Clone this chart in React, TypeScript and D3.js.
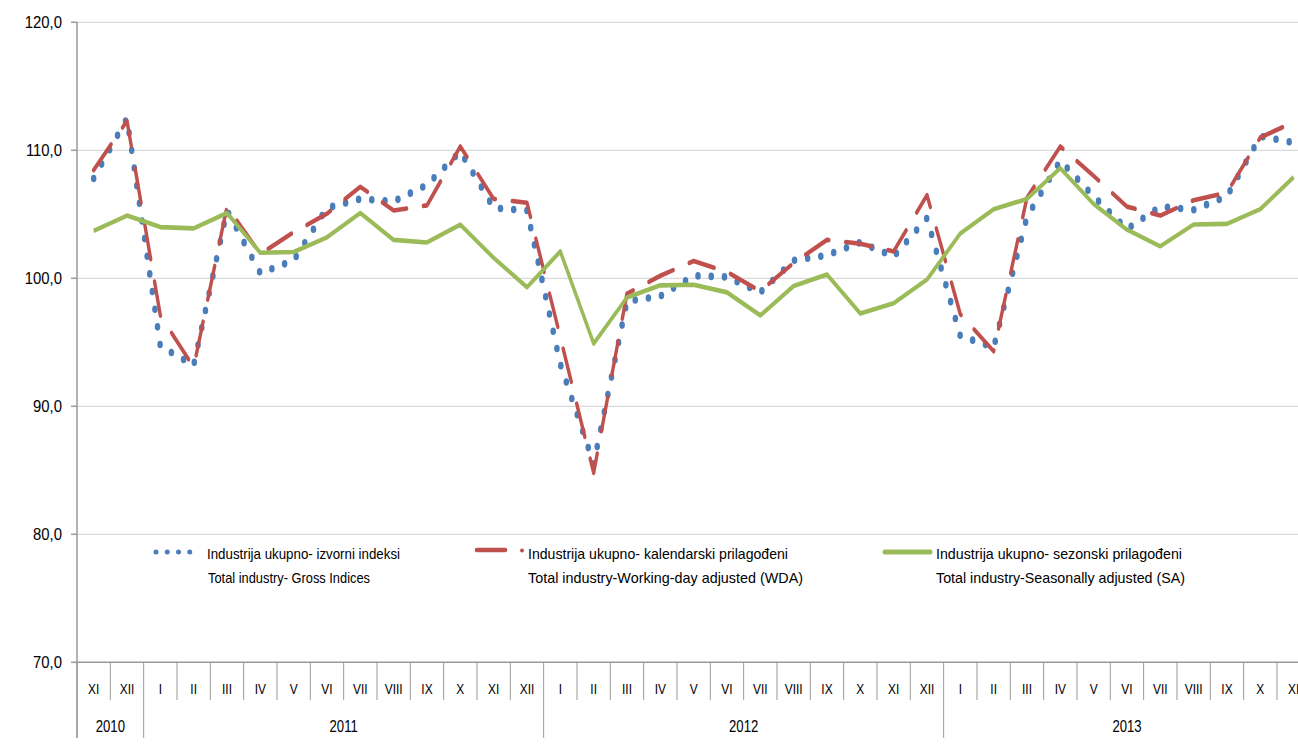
import React from 'react';
import * as d3 from 'd3';

const months = ['XI', 'XII', 'I', 'II', 'III', 'IV', 'V', 'VI', 'VII', 'VIII', 'IX', 'X', 'XI', 'XII',
  'I', 'II', 'III', 'IV', 'V', 'VI', 'VII', 'VIII', 'IX', 'X', 'XI', 'XII',
  'I', 'II', 'III', 'IV', 'V', 'VI', 'VII', 'VIII', 'IX', 'X', 'XI'];
const yearLabels = ['2010', '2011', '2012', '2013'];
const yearMonthCounts = [2, 12, 12, 11];

const gross = [107.8, 112.5, 94.7, 93.2, 105.3, 100.4, 101.4, 105.5, 106.2, 106.0, 107.3, 109.9, 105.5, 105.3,
  93.3, 85.5, 98.2, 98.6, 100.2, 100.1, 98.9, 101.4, 101.8, 102.8, 101.7, 104.7,
  95.5, 94.6, 104.8, 109.2, 106.4, 103.85, 105.6, 105.35, 106.4, 111.1, 110.6];
const wda = [108.45, 112.3, 97.1, 93.05, 105.6, 101.9, 103.6, 105.05, 107.15, 105.3, 105.7, 110.3, 106.2, 105.9,
  95.4, 84.8, 98.8, 100.2, 101.35, 100.5, 99.0, 101.2, 103.0, 102.7, 102.1, 106.5,
  97.2, 94.3, 106.3, 110.3, 108.0, 105.6, 104.9, 106.1, 106.7, 111.0, 112.2];
const sa = [103.7, 104.9, 104.0, 103.9, 105.1, 102.0, 102.05, 103.2, 105.1, 103.0, 102.8, 104.2, 101.6, 99.3,
  102.1, 94.9, 98.5, 99.45, 99.5, 98.9, 97.1, 99.4, 100.3, 97.25, 98.05, 99.9,
  103.5, 105.4, 106.2, 108.6, 105.8, 103.8, 102.5, 104.2, 104.25, 105.4, 107.9];
const yTicks = [70, 80, 90, 100, 110, 120];

const legendLine1 = ['Industrija ukupno- izvorni indeksi', 'Industrija ukupno- kalendarski prilagođeni', 'Industrija ukupno- sezonski prilagođeni'];
const legendLine2 = ['Total industry- Gross Indices', 'Total industry-Working-day adjusted (WDA)', 'Total industry-Seasonally adjusted (SA)'];

const W = 1298, H = 744;
const X0 = 77, X1 = 1310.3, Y0 = 662.3, Y1 = 22.3;
const SQ = 0.735;
const BLUE = '#4a7ebb', RED = '#c0504d', GREEN = '#9bbb59';
const FONT = '"Liberation Sans", Arial, sans-serif';

function SText({ x, y, sx = 1, anchor = 'middle', size = 15, children }: any) {
  return (
    <text transform={`translate(${x},${y}) scale(${sx},1)`} textAnchor={anchor} fontSize={size}
      fontFamily={FONT} fill="#000">{children}</text>
  );
}

export default function App() {
  const idx = d3.range(months.length);
  const x = d3.scaleBand<number>().domain(idx).range([X0, X1]).padding(0);
  const y = d3.scaleLinear().domain([70, 120]).range([Y0, Y1]);
  const bw = x.bandwidth();
  const cxS = (i: number) => (x(i)! + bw / 2) / SQ;
  const lineGen = d3.line<number>().x((_, i) => cxS(i)).y((v) => y(v));

  const boundaries = d3.range(months.length + 1).map((i) => X0 + i * bw);
  const yearStarts: number[] = [];
  let acc = 0;
  yearMonthCounts.forEach((c) => { yearStarts.push(acc); acc += c; });

  const legX = [207, 528, 936];
  const legW1 = [193, 260, 246];
  const legW2 = [162, 275, 249];

  return (
    <svg width={W} height={H} style={{ position: 'absolute', left: 0, top: 0, background: '#fff' }}>
      {/* gridlines */}
      {yTicks.map((t) => (
        <line key={'g' + t} x1={X0} x2={W} y1={y(t)} y2={y(t)} stroke={t === 70 ? '#9a9a9a' : '#d9d9d9'} strokeWidth={t === 70 ? 1.5 : 1.3} />
      ))}
      {/* y axis */}
      <line x1={X0} x2={X0} y1={Y1} y2={738} stroke="#9a9a9a" strokeWidth={1.5} />
      {yTicks.map((t) => (
        <line key={'t' + t} x1={71} x2={X0} y1={y(t)} y2={y(t)} stroke="#9a9a9a" strokeWidth={1.5} />
      ))}
      {yTicks.map((t) => (
        <SText key={'l' + t} x={62} y={y(t) + 5.8} anchor="end" size={16} sx={0.93}>{d3.format('.1f')(t).replace('.', ',')}</SText>
      ))}
      {/* category separators */}
      {boundaries.map((b, i) => (
        <line key={'b' + i} x1={b} x2={b} y1={Y0} y2={yearStarts.includes(i) ? 738 : 700} stroke="#9a9a9a" strokeWidth={1} />
      ))}
      {months.map((m, i) => (
        <SText key={'m' + i} x={x(i)! + bw / 2} y={694} size={15.5} sx={0.77}>{m}</SText>
      ))}
      {yearLabels.map((yl, k) => {
        const s = yearStarts[k];
        const c = X0 + (s + yearMonthCounts[k] / 2) * bw;
        return <SText key={'y' + k} x={c} y={731.5} size={16} sx={0.82}>{yl}</SText>;
      })}

      {/* series */}
      <g transform={`scale(${SQ},1)`}>
        <path d={lineGen(gross)!} fill="none" stroke={BLUE} strokeWidth={7.6} strokeLinecap="round" strokeDasharray="0 18" />
        <path d={lineGen(wda)!} fill="none" stroke={RED} strokeWidth={4.6} strokeLinecap="round" strokeDasharray="35 23" strokeLinejoin="round" />
        <path d={lineGen(sa)!} fill="none" stroke={GREEN} strokeWidth={4.6} strokeLinejoin="round" />
      </g>

      {/* legend */}
      <line x1={156} x2={201} y1={552} y2={552} stroke={BLUE} strokeWidth={5} strokeLinecap="round" strokeDasharray="0 11.25" />
      <line x1={477} x2={505} y1={550} y2={550} stroke={RED} strokeWidth={4.6} strokeLinecap="round" />
      <circle cx={522} cy={550.5} r={2} fill={RED} />
      <line x1={885} x2={930} y1={552} y2={552} stroke={GREEN} strokeWidth={5} strokeLinecap="round" />
      {legendLine1.map((t, k) => (
        <text key={'a' + k} x={legX[k]} y={558.5} fontSize={15} fontFamily={FONT} textLength={legW1[k]} lengthAdjust="spacingAndGlyphs">{t}</text>
      ))}
      {legendLine2.map((t, k) => (
        <text key={'b' + k} x={legX[k] + (k === 0 ? 1 : 0)} y={582.5} fontSize={15} fontFamily={FONT} textLength={legW2[k]} lengthAdjust="spacingAndGlyphs">{t}</text>
      ))}
    </svg>
  );
}
